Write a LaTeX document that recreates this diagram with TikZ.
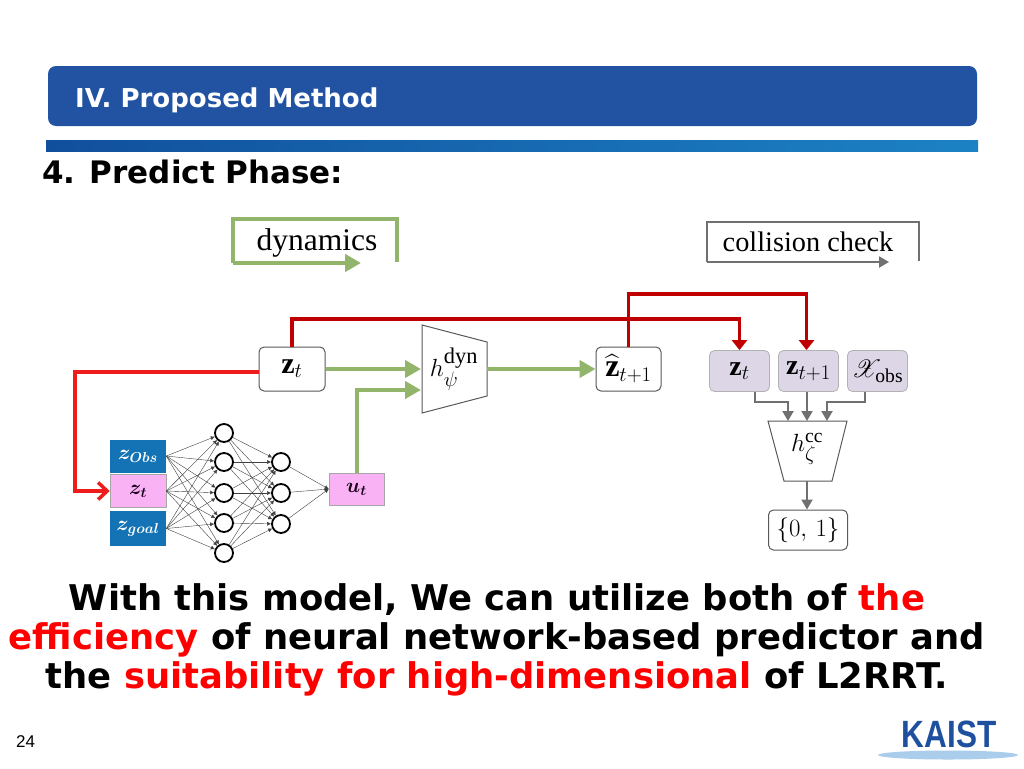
\documentclass[tikz,border=0pt]{standalone}
\usepackage{amsmath}
\usepackage{mathrsfs}
\usepackage{fontspec}
\setmainfont{Liberation Serif}
\newfontfamily\slidefont{DejaVu Sans}
\newfontfamily\pagefont{Liberation Sans}
\newfontfamily\logofont[FakeStretch=0.83]{Liberation Sans}
\usetikzlibrary{arrows.meta}
\definecolor{barblue}{HTML}{2253A3}
\definecolor{stripdark}{HTML}{114F9C}
\definecolor{striplight}{HTML}{1C82C4}
\definecolor{dyngreen}{HTML}{93B56B}
\definecolor{ccgray}{HTML}{707070}
\definecolor{darkred}{HTML}{C00000}
\definecolor{brightred}{HTML}{EE1C1C}
\definecolor{nnblue}{HTML}{1373B5}
\definecolor{nnpink}{HTML}{F9B3F5}
\definecolor{ccpurple}{HTML}{DCD6E6}
\definecolor{logoblue}{HTML}{1F4F9F}
\definecolor{logosky}{HTML}{A9CDEB}
\begin{document}
\begin{tikzpicture}[x=1pt,y=-1pt,
  latent/.style={draw=black!65, line width=1pt, rounded corners=5pt, fill=white, inner sep=0pt, minimum height=44pt, font=\fontsize{30}{34}\selectfont},
  ccbox/.style={draw=black!30, line width=.8pt, rounded corners=5pt, fill=ccpurple, inner sep=0pt, minimum width=60pt, minimum height=41pt, font=\fontsize{28}{32}\selectfont},
  nnbox/.style={line width=.6pt, inner sep=0pt, minimum width=56pt, minimum height=33pt, font=\fontsize{21}{24}\selectfont\boldmath},
  neuron/.style={circle, draw, line width=1.8pt, fill=white, inner sep=0pt, minimum size=18pt},
  nnedge/.style={line width=.4pt, black!75, -{Latex[length=4pt,width=4pt]}},
  dynline/.style={dyngreen, line width=4pt, -{Triangle[length=16pt,width=17pt]}},
  ccline/.style={ccgray, line width=2pt, -{Triangle[length=10pt,width=11pt]}},
  redline/.style={darkred, line width=3.5pt, -{Triangle[length=10pt,width=15pt]}},
  head/.style={anchor=base west, inner sep=0pt, font=\slidefont\bfseries\fontsize{26}{30}\selectfont}]
\useasboundingbox (0,0) rectangle (1024,768);
\fill[white] (0,0) rectangle (1024,768);
\fill[barblue, rounded corners=8pt] (48,66) rectangle (977,126);
\fill[left color=stripdark, right color=striplight] (46,140) rectangle (978,151);
\node[head, white] (title) at (75,107){IV. Proposed Method};
\node[head, font=\slidefont\bfseries\fontsize{31}{36}\selectfont] (phase) at (42,183){4. Predict Phase:};
\draw[dyngreen, line width=4pt] (397,262) -- (397,219) -- (233,219) -- (233,263);
\coordinate (dynlegend0) at (233,263);
\coordinate (dynlegend1) at (361,263);
\draw[dynline] (dynlegend0) -- (dynlegend1);
\node[inner sep=0pt, font=\fontsize{31.5}{34}\selectfont] (dynlabel) at (317,243){dynamics};
\draw[ccgray, line width=2pt] (919,261) -- (919,222) -- (707,222) -- (707,262);
\coordinate (cclegend0) at (707,262);
\coordinate (cclegend1) at (889,262);
\draw[ccline] (cclegend0) -- (cclegend1);
\node[inner sep=0pt, font=\fontsize{28.3}{32}\selectfont] (cclabel) at (808,242){collision check};
\node[latent, minimum width=66pt] (zdyn) at (292,369){$\mathbf{z}_t$};
\node[latent, minimum width=65pt, font=\fontsize{32}{36}\selectfont] (zhat) at (628.5,369){$\widehat{\mathbf{z}}_{t+1}$};
\draw[black!65, line width=1pt, fill=white] (422,325) -- (487,342) -- (487,396) -- (422,413) -- cycle;
\node[inner sep=0pt, font=\fontsize{32}{36}\selectfont] (hdyn) at (454,369){$h_{\psi}^{\mathrm{dyn}}$};
\coordinate (dynin0) at (421,369);
\coordinate (dynin1) at (421,390);
\coordinate (dynout) at (487,369);
\node[ccbox] (zcc) at (739.5,371){$\mathbf{z}_t$};
\node[ccbox] (zcc1) at (808.5,371){$\mathbf{z}_{t+1}$};
\node[ccbox] (xcc) at (877.5,371){$\mathscr{X}_{\mathrm{obs}}$};
\draw[black!65, line width=1pt, fill=white] (768,421) -- (847,421) -- (832,481) -- (784,481) -- cycle;
\node[inner sep=0pt, font=\fontsize{28}{32}\selectfont] (hcc) at (807,449){$h_{\zeta}^{\mathrm{cc}}$};
\coordinate (ccin0) at (788,421);
\coordinate (ccin1) at (807,421);
\coordinate (ccin2) at (827,421);
\coordinate (ccout) at (807,481);
\node[latent, minimum width=79pt, minimum height=40pt, font=\fontsize{29}{32}\selectfont] (result) at (808,530){$\{0,\,1\}$};
\node[nnbox, fill=nnblue, text=white] (zobs) at (138,456){$z_{Obs}$};
\node[nnbox, fill=nnpink, draw=black!35, text=black!80!violet] (znn) at (138,491){$z_t$};
\node[nnbox, fill=nnblue, text=white, minimum height=35pt, font=\fontsize{22}{24}\selectfont\boldmath] (zgoal) at (138,528.5){$z_{goal}$};
\node[nnbox, fill=nnpink, draw=black!35, minimum width=55pt, minimum height=32pt, text=black!80!violet] (unn) at (356.5,489){$u_t$};
\node[neuron] (n10) at (224,433){};
\node[neuron] (n11) at (224,462){};
\node[neuron] (n12) at (224,493){};
\node[neuron] (n13) at (224,523){};
\node[neuron] (n14) at (224,553){};
\node[neuron] (n20) at (281,462){};
\node[neuron] (n21) at (281,493){};
\node[neuron] (n22) at (281,524){};
\draw[nnedge](zobs.east) -- (n10);
\draw[nnedge](zobs.east) -- (n11);
\draw[nnedge](zobs.east) -- (n12);
\draw[nnedge](zobs.east) -- (n13);
\draw[nnedge](zobs.east) -- (n14);
\draw[nnedge](znn.east) -- (n10);
\draw[nnedge](znn.east) -- (n11);
\draw[nnedge](znn.east) -- (n12);
\draw[nnedge](znn.east) -- (n13);
\draw[nnedge](znn.east) -- (n14);
\draw[nnedge](zgoal.east) -- (n10);
\draw[nnedge](zgoal.east) -- (n11);
\draw[nnedge](zgoal.east) -- (n12);
\draw[nnedge](zgoal.east) -- (n13);
\draw[nnedge](zgoal.east) -- (n14);
\draw[nnedge](n10) -- (n20);
\draw[nnedge](n10) -- (n21);
\draw[nnedge](n10) -- (n22);
\draw[nnedge](n11) -- (n20);
\draw[nnedge](n11) -- (n21);
\draw[nnedge](n11) -- (n22);
\draw[nnedge](n12) -- (n20);
\draw[nnedge](n12) -- (n21);
\draw[nnedge](n12) -- (n22);
\draw[nnedge](n13) -- (n20);
\draw[nnedge](n13) -- (n21);
\draw[nnedge](n13) -- (n22);
\draw[nnedge](n14) -- (n20);
\draw[nnedge](n14) -- (n21);
\draw[nnedge](n14) -- (n22);
\draw[nnedge](n20) -- (unn.west);
\draw[nnedge](n21) -- (unn.west);
\draw[nnedge](n22) -- (unn.west);
\draw[dynline](zdyn.east) -- (dynin0);
\draw[dynline](unn.north) |- (dynin1);
\draw[dynline](dynout) -- (zhat.west);
\coordinate (redrail0) at (0,319);
\coordinate (redrail1) at (0,294);
\coordinate (redbend) at (75,372);
\draw[redline](zdyn.north) |- (zcc.north |- redrail0) -- (zcc.north);
\draw[redline](zhat.north) |- ([xshift=-2pt]zcc1.north |- redrail1) -- ([xshift=-2pt]zcc1.north);
\draw[brightred, line width=4pt, -{Straight Barb[length=9pt,width=17pt,line width=3.5pt]}]([yshift=-3pt]zdyn.west) -- (redbend) |- (znn.west);
\coordinate (ccrail) at (0,402);
\draw[ccline]([xshift=15pt]zcc.south) |- (ccin0 |- ccrail) -- (ccin0);
\draw[ccline](ccin1 |- zcc1.south) -- (ccin1);
\draw[ccline]([xshift=-13pt]xcc.south) |- (ccin2 |- ccrail) -- (ccin2);
\draw[ccline](ccout) -- (ccout |- result.north);
\node[align=center, inner sep=0pt, font=\slidefont\bfseries\fontsize{35.4}{39}\selectfont] (summary) at (497,639.5){With this model, We can utilize both of \textcolor{red}{the}\\ \textcolor{red}{efficiency} of neural network-based predictor and\\ the \textcolor{red}{suitability for high-dimensional} of L2RRT.};
\node[anchor=base west, inner sep=0pt, font=\pagefont\fontsize{17}{20}\selectfont] (pagenum) at (16,747){24};
\fill[logosky] (948,755) ellipse (70pt and 4.5pt);
\node[inner sep=0pt, text=logoblue, font=\logofont\bfseries\fontsize{38}{40}\selectfont] (logo) at (949,734){KAIST};
\end{tikzpicture}
\end{document}
